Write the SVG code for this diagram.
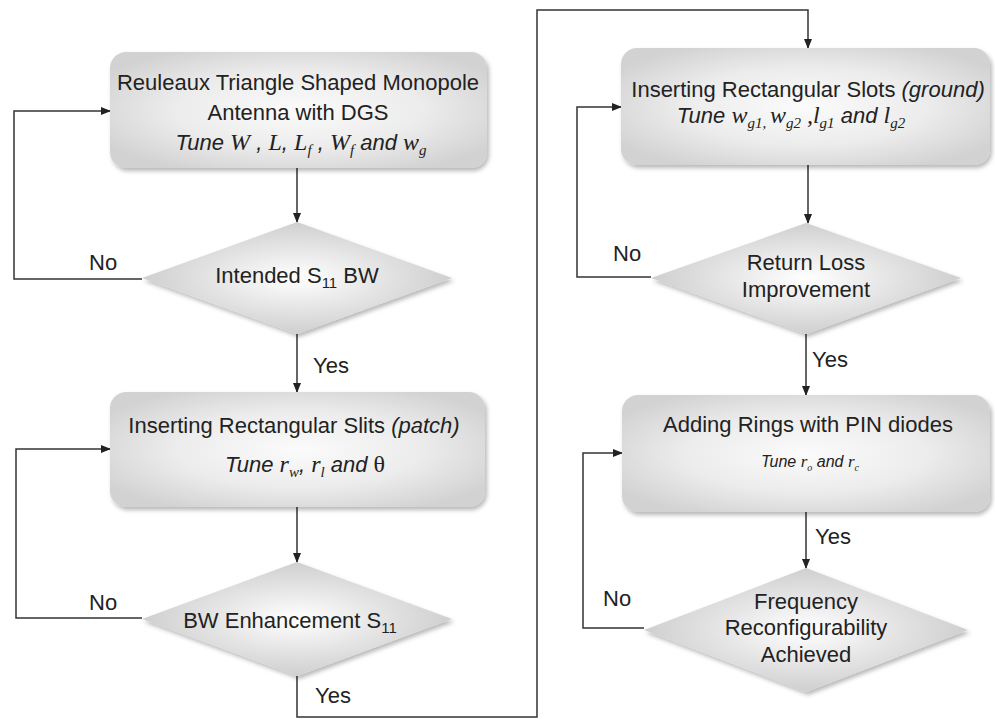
<svg xmlns="http://www.w3.org/2000/svg" width="995" height="719" viewBox="0 0 995 719">
<defs>
<radialGradient id="gb" cx="0.5" cy="0.5" r="0.6">
<stop offset="0" stop-color="#fbfbfb"/>
<stop offset="0.55" stop-color="#ececec"/>
<stop offset="1" stop-color="#d2d2d2"/>
</radialGradient>
<radialGradient id="gd" cx="0.5" cy="0.5" r="0.5">
<stop offset="0" stop-color="#ffffff"/>
<stop offset="0.6" stop-color="#e2e2e2"/>
<stop offset="1" stop-color="#cfcfcf"/>
</radialGradient>
<filter id="sh" x="-10%" y="-10%" width="125%" height="130%">
<feDropShadow dx="2" dy="3" stdDeviation="2" flood-color="#000" flood-opacity="0.28"/>
</filter>
<marker id="ar" markerWidth="10" markerHeight="8" refX="9" refY="4" orient="auto" markerUnits="userSpaceOnUse">
<path d="M0,0 L10,4 L0,8 z" fill="#222"/>
</marker>
</defs>
<style>
.box{fill:url(#gb);filter:url(#sh);}
.dia{fill:url(#gd);filter:url(#sh);}
text{font-family:"Liberation Sans",Arial,sans-serif;font-size:22px;fill:#222;}
.c{text-anchor:middle;}
.it{font-style:italic;}
.m{font-family:"Liberation Serif","Times New Roman",serif;font-style:italic;font-size:24px;}
.up{font-family:"Liberation Serif","Times New Roman",serif;font-style:normal;font-size:24px;}
.s{font-size:15px;}
.ln{fill:none;stroke:#333;stroke-width:1.5;}
</style>

<g id="connectors">
<path class="ln" d="M297,168 V222" marker-end="url(#ar)"/>
<path class="ln" d="M142,279 H14 V111 H110" marker-end="url(#ar)"/>
<path class="ln" d="M297,334 V392" marker-end="url(#ar)"/>
<path class="ln" d="M297,507 V562" marker-end="url(#ar)"/>
<path class="ln" d="M142,618 H16 V449 H110" marker-end="url(#ar)"/>
<path class="ln" d="M297,676 V717 H537 V10 H808 V48" marker-end="url(#ar)"/>
<path class="ln" d="M808,165 V223" marker-end="url(#ar)"/>
<path class="ln" d="M651,277 H577 V107 H621" marker-end="url(#ar)"/>
<path class="ln" d="M806,334 V395" marker-end="url(#ar)"/>
<path class="ln" d="M806,512 V568" marker-end="url(#ar)"/>
<path class="ln" d="M644,628 H583 V453 H622" marker-end="url(#ar)"/>
<text x="89" y="270">No</text>
<text x="89" y="610">No</text>
<text x="613" y="261">No</text>
<text x="603" y="606">No</text>
<text x="313" y="373">Yes</text>
<text x="315" y="703">Yes</text>
<text x="812" y="367">Yes</text>
<text x="815" y="544">Yes</text>
</g>

<g id="box1">
<rect class="box" x="110" y="52" width="377" height="116" rx="16"/>
<text class="c" x="298" y="90">Reuleaux Triangle Shaped Monopole</text>
<text class="c" x="298" y="120">Antenna with DGS</text>
<text class="c it" x="301" y="150">Tune <tspan class="m">W</tspan> ,  <tspan class="m">L</tspan>,  <tspan class="m">L</tspan><tspan class="m s" dy="5">f</tspan><tspan dy="-5"> ,  </tspan><tspan class="m">W</tspan><tspan class="m s" dy="5">f</tspan><tspan dy="-5"> and  </tspan><tspan class="m">w</tspan><tspan class="m s" dy="5">g</tspan></text>
</g>

<g id="decision1">
<polygon class="dia" points="297,222 452,278 297,334 142,278"/>
<text class="c" x="297" y="283">Intended S<tspan class="s" dy="5">11</tspan><tspan dy="-5"> BW</tspan></text>
</g>

<g id="box2">
<rect class="box" x="110" y="392" width="375" height="115" rx="16"/>
<text class="c" x="294" y="433">Inserting Rectangular Slits <tspan class="it">(patch)</tspan></text>
<text class="c it" x="305" y="472">Tune  <tspan class="m">r</tspan><tspan class="m s" dy="5">w</tspan><tspan dy="-5">, </tspan><tspan class="m">r</tspan><tspan class="m s" dy="5">l</tspan><tspan dy="-5">   and </tspan><tspan class="up">θ</tspan></text>
</g>

<g id="decision2">
<polygon class="dia" points="297,562 452,619 297,676 142,619"/>
<text class="c" x="290" y="628">BW Enhancement S<tspan class="s" dy="5">11</tspan></text>
</g>

<g id="box3">
<rect class="box" x="621" y="48" width="369" height="117" rx="16"/>
<text class="c" x="808" y="97">Inserting Rectangular Slots <tspan class="it">(ground)</tspan></text>
<text class="c it" x="791" y="123">Tune  <tspan class="m">w</tspan><tspan class="m s" dy="5">g1, </tspan><tspan class="m" dy="-5">w</tspan><tspan class="m s" dy="5">g2</tspan><tspan class="m" dy="-5"> ,l</tspan><tspan class="m s" dy="5">g1</tspan><tspan dy="-5">  and </tspan><tspan class="m">l</tspan><tspan class="m s" dy="5">g2</tspan></text>
</g>

<g id="decision3">
<polygon class="dia" points="806,223 961,278 806,334 651,278"/>
<text class="c" x="806" y="270">Return Loss</text>
<text class="c" x="806" y="297">Improvement</text>
</g>

<g id="box4">
<rect class="box" x="622" y="395" width="368" height="117" rx="16"/>
<text class="c" x="808" y="432">Adding Rings with PIN diodes</text>
<text class="c it" x="810" y="467" style="font-size:16px">Tune  <tspan class="m" style="font-size:17px">r</tspan><tspan class="m" dy="4" style="font-size:10px">o</tspan><tspan dy="-4"> and </tspan><tspan class="m" style="font-size:17px">r</tspan><tspan class="m" dy="4" style="font-size:10px">c</tspan></text>
</g>

<g id="decision4">
<polygon class="dia" points="806,568 968,630 806,692 644,630"/>
<text class="c" x="806" y="609">Frequency</text>
<text class="c" x="806" y="635">Reconfigurability</text>
<text class="c" x="806" y="662">Achieved</text>
</g>
</svg>
